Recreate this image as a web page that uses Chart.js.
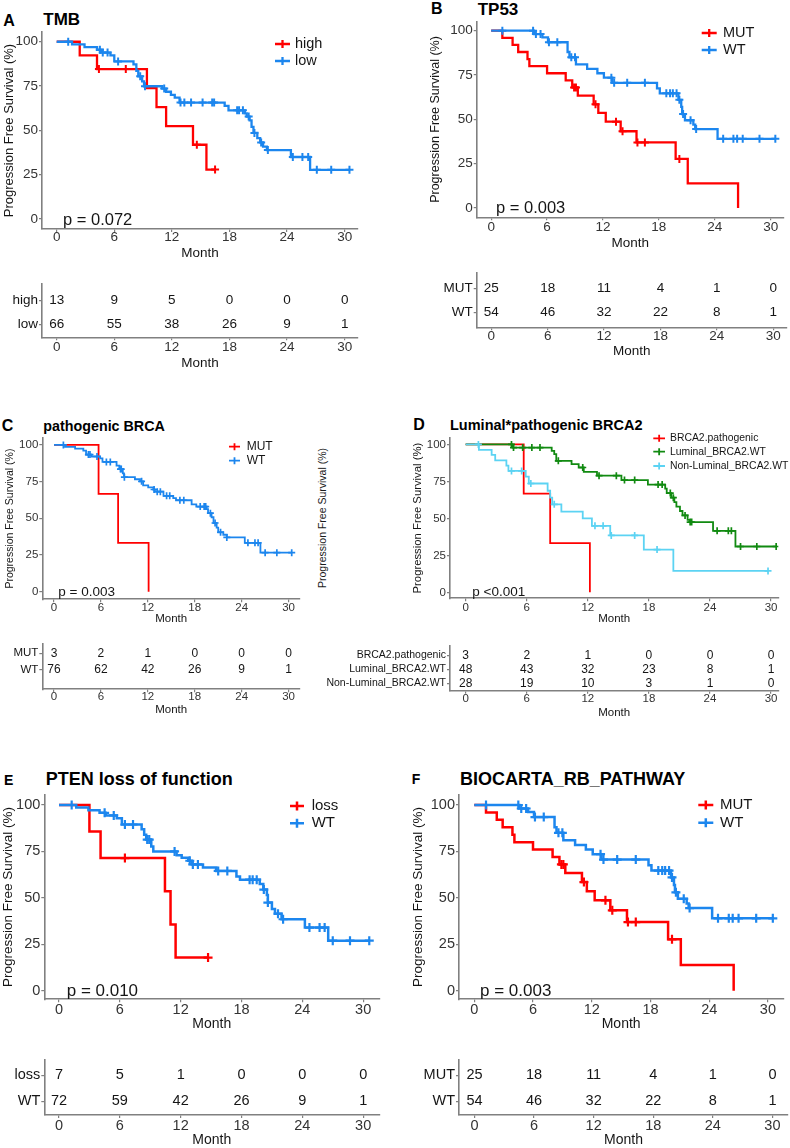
<!DOCTYPE html>
<html>
<head>
<meta charset="utf-8">
<title>Progression free survival</title>
<script src="https://cdn.jsdelivr.net/npm/chart.js@4.4.1/dist/chart.umd.min.js"></script>
<style>
    html, body { margin: 0; padding: 0; background: #fff; }
    body { position: relative; width: 790px; height: 1148px; overflow: hidden; font-family: "Liberation Sans", Arial, sans-serif; }
    canvas { position: absolute; }
    .txt { position: absolute; white-space: nowrap; line-height: 1; color: #000; font-weight: bold; }
    .vtitle { position: absolute; white-space: nowrap; line-height: 1; color: #1a1a1a; transform: translate(-50%, -50%) rotate(-90deg); }
</style>
</head>
<body>
<script>
// ---- shared ticks ----
var monthTicks = [0, 6, 12, 18, 24, 30];
var survTicks = [0, 25, 50, 75, 100];
var riskMonths = [0, 6, 12, 18, 24, 30];

// ---- A: TMB ----
var tmbHighTime = [0, 2.4, 4.2, 9.4, 10.4, 11.4, 14.2, 15.6];
var tmbHighSurv = [100, 92.3, 84.6, 73.8, 63.1, 52.4, 41.9, 27.9];
var tmbHighCens = [4.4, 7.2, 14.6, 16.5];
var tmbLowTime = [0, 1.6, 2.9, 4.2, 4.6, 5.6, 6.0, 8.0, 8.3, 8.5, 8.9, 9.1, 11.0, 11.4, 11.9, 12.3, 12.8, 17.5, 17.9, 19.6, 19.8, 20.1, 20.3, 20.5, 20.9, 21.2, 21.5, 21.9, 24.4, 26.4];
var tmbLowSurv = [100, 98.5, 97.0, 95.5, 93.9, 92.3, 88.9, 87.2, 83.6, 80.5, 77.6, 74.9, 73.6, 71.8, 70.0, 68.5, 65.7, 63.8, 61.3, 59.6, 57.8, 55.7, 52.0, 48.6, 45.6, 43.2, 40.9, 38.9, 35.0, 27.8];
var tmbLowCens = [1.2, 4.5, 4.8, 5.3, 6.4, 8.7, 9.2, 11.2, 12.9, 13.3, 14.0, 15.2, 16.2, 16.4, 18.8, 19.0, 19.4, 20.0, 20.6, 21.3, 22.0, 24.6, 25.6, 26.2, 27.1, 28.6, 30.5];
var tmbRiskHigh = [13, 9, 5, 0, 0, 0];
var tmbRiskLow = [66, 55, 38, 26, 9, 1];

// ---- B: TP53 ----
var tp53MutTime = [0, 1.2, 2.3, 2.9, 3.9, 4.1, 6.0, 8.0, 8.7, 9.3, 11.0, 11.5, 12.3, 13.9, 15.6, 19.8, 21.1, 26.5];
var tp53MutSurv = [100, 96, 92, 88, 84, 80, 76, 72, 68, 63.4, 58.5, 53.6, 48.7, 43.3, 37.0, 27.7, 13.9, 0];
var tp53MutCens = [8.9, 9.1, 11.2, 13.4, 14.1, 15.7, 16.5, 20.2];
var tp53WtTime = [0, 4.6, 5.5, 6.1, 8.2, 8.4, 9.1, 10.3, 11.4, 12.1, 13.0, 17.8, 18.1, 20.1, 20.4, 20.5, 20.8, 21.7, 21.9, 24.3];
var tp53WtSurv = [100, 98.1, 96.2, 93.5, 88.0, 85.0, 81.0, 78.5, 76.0, 73.5, 70.6, 67.5, 64.7, 61.0, 57.0, 53.0, 49.5, 47.0, 44.5, 39.0];
var tp53WtCens = [1.2, 4.5, 4.8, 5.3, 6.2, 7.1, 8.6, 9.0, 12.9, 13.2, 14.6, 16.5, 18.8, 19.2, 19.5, 19.9, 20.2, 20.6, 21.4, 22.0, 24.9, 26.0, 26.4, 27.0, 28.8, 30.5];
var tp53RiskMut = [25, 18, 11, 4, 1, 0];
var tp53RiskWt = [54, 46, 32, 22, 8, 1];

// ---- C: pathogenic BRCA ----
var brcaMutTime = [0, 5.7, 8.2, 12.1];
var brcaMutSurv = [100, 66.7, 33.3, 0];
var brcaMutCens = [];
var brcaWtTime = [0, 1.4, 2.7, 3.75, 4.1, 4.8, 5.9, 6.2, 8.0, 8.35, 8.8, 8.95, 10.35, 11.0, 11.4, 12.05, 12.7, 12.9, 14.0, 15.25, 15.6, 17.6, 18.2, 19.5, 19.7, 20.15, 20.4, 20.8, 21.0, 21.65, 22.1, 24.4, 26.4];
var brcaWtSurv = [100, 98.7, 97.4, 96.1, 93.4, 92.1, 90.8, 88.4, 85.9, 83.5, 80.6, 78.0, 76.6, 75.2, 72.4, 71.0, 69.6, 68.1, 65.3, 63.8, 62.3, 59.5, 58.0, 56.3, 53.5, 50.7, 46.8, 43.7, 40.5, 38.8, 37.0, 33.3, 26.6];
var brcaWtCens = [1.2, 4.4, 4.6, 5.5, 6.7, 7.2, 8.5, 8.6, 9.0, 11.2, 12.8, 13.2, 13.6, 14.4, 14.8, 16.1, 16.6, 18.7, 19.2, 19.4, 20.0, 20.6, 21.3, 22.1, 24.8, 25.7, 26.1, 27.0, 28.5, 30.4];
var brcaRiskMut = [3, 2, 1, 0, 0, 0];
var brcaRiskWt = [76, 62, 42, 26, 9, 1];

// ---- D: Luminal*pathogenic BRCA2 ----
var lumPathTime = [0, 5.7, 8.3, 12.2];
var lumPathSurv = [100, 66.7, 33.3, 0];
var lumPathCens = [];
var lumWtTime = [0, 4.6, 8.45, 8.7, 8.9, 10.4, 11.1, 11.6, 12.9, 15.3, 17.9, 19.6, 19.75, 20.2, 20.5, 20.7, 21.05, 21.3, 21.8, 22.0, 24.3, 26.5];
var lumWtSurv = [100, 97.9, 95.7, 93.4, 88.9, 86.7, 84.4, 81.5, 78.9, 75.9, 72.9, 70.1, 67.1, 64.0, 61.0, 58.0, 55.0, 52.0, 49.0, 47.5, 41.6, 31.0];
var lumWtCens = [4.5, 4.7, 5.6, 6.5, 7.3, 9.1, 11.5, 13.1, 14.8, 15.6, 16.6, 18.9, 19.3, 20.1, 20.4, 21.55, 22.05, 22.2, 24.7, 25.8, 26.1, 27.0, 28.6, 30.5];
var nonLumTime = [0, 1.3, 2.55, 2.9, 4.0, 4.2, 5.9, 6.2, 8.05, 8.3, 8.5, 9.4, 11.5, 12.4, 14.2, 17.5, 20.4];
var nonLumSurv = [100, 96.4, 92.9, 89.3, 85.7, 82.1, 78.2, 73.6, 68.7, 64.1, 59.5, 54.6, 50.0, 45.0, 38.5, 28.9, 14.5];
var nonLumCens = [1.25, 4.5, 5.5, 6.4, 8.7, 12.7, 13.5, 14.3, 16.6, 18.8, 29.7];
var lumRiskPath = [3, 2, 1, 0, 0, 0];
var lumRiskWt = [48, 43, 32, 23, 8, 1];
var nonLumRisk = [28, 19, 10, 3, 1, 0];

// ---- E: PTEN loss of function ----
var ptenLossTime = [0, 3.0, 4.1, 10.45, 11.0, 11.5];
var ptenLossSurv = [100, 85.7, 71.4, 53.6, 35.7, 17.9];
var ptenLossCens = [6.5, 14.7];
var ptenWtTime = [0, 1.7, 2.9, 4.0, 4.6, 5.7, 6.2, 8.15, 8.4, 8.6, 9.1, 9.3, 11.6, 12.1, 12.75, 13.1, 14.2, 15.5, 17.5, 17.85, 19.8, 20.15, 20.5, 20.6, 21.0, 21.3, 21.95, 24.25, 26.55];
var ptenWtSurv = [100, 98.6, 97.2, 95.8, 94.4, 92.9, 89.5, 87.0, 84.0, 81.4, 77.6, 75.0, 73.0, 71.6, 70.0, 68.0, 66.3, 64.5, 61.5, 59.8, 57.5, 54.5, 51.5, 47.5, 44.0, 41.5, 38.5, 34.0, 27.0];
var ptenWtCens = [1.25, 4.5, 5.4, 6.5, 7.3, 8.7, 8.9, 11.4, 12.9, 13.2, 13.7, 15.7, 16.6, 18.8, 19.1, 19.5, 20.2, 20.6, 21.6, 22.1, 24.7, 25.7, 26.2, 27.0, 28.7, 30.6];
var ptenRiskLoss = [7, 5, 1, 0, 0, 0];
var ptenRiskWt = [72, 59, 42, 26, 9, 1];

// ---- F: BIOCARTA_RB_PATHWAY (curves read the same as TP53) ----
var rbMutTime = tp53MutTime, rbMutSurv = tp53MutSurv, rbMutCens = tp53MutCens;
var rbWtTime = tp53WtTime, rbWtSurv = tp53WtSurv, rbWtCens = tp53WtCens;
var rbRiskMut = [25, 18, 11, 4, 1, 0];
var rbRiskWt = [54, 46, 32, 22, 8, 1];

var FONT = '"Liberation Sans", Arial, sans-serif';
var RED = '#FF0000';
var BLUE = '#1C86EE';
var GREEN = '#118A11';
var CYAN = '#5CD3F3';
var AXIS = '#808080';
var TICK = '#333333';
var INK = '#151515';

Chart.defaults.font.family = FONT;
Chart.defaults.animation = false;

function makeCanvas(x, y, w, h) {
    var c = document.createElement('canvas');
    c.width = w;
    c.height = h;
    c.style.left = x + 'px';
    c.style.top = y + 'px';
    c.style.width = w + 'px';
    c.style.height = h + 'px';
    document.body.appendChild(c);
    return c;
}

function addTitle(text, x, cy, fs) {
    var d = document.createElement('div');
    d.className = 'txt';
    d.textContent = text;
    d.style.left = x + 'px';
    d.style.top = (cy - 0.49 * fs) + 'px';
    d.style.fontSize = fs + 'px';
    document.body.appendChild(d);
}

function stepPoints(time, surv, cens) {
    var pts = time.map(function (t, i) { return { x: t, y: surv[i] }; });
    var last = cens.length ? Math.max.apply(null, cens) : 0;
    if (last > time[time.length - 1]) pts.push({ x: last, y: surv[surv.length - 1] });
    return pts;
}

function survAt(time, surv, t) {
    var s = surv[0];
    for (var i = 0; i < time.length; i++) {
        if (time[i] <= t) s = surv[i];
    }
    return s;
}

function frame(p) {
    var h = Math.round(p.bottom - p.y);
    return {
        h: h,
        padL: p.box.l - p.x,
        padT: p.box.t - p.y,
        padR: p.x + p.w - p.box.r,
        padB: p.y + h - p.box.b
    };
}

function xAxis(p, f) {
    return {
        type: 'linear', min: p.xr[0], max: p.xr[1],
        afterBuildTicks: function (s) { s.ticks = monthTicks.map(function (v) { return { value: v }; }); },
        afterFit: function (s) { s.height = f.padB; },
        grid: { drawOnChartArea: false, drawTicks: true, tickLength: 3, color: AXIS, lineWidth: 1.2 },
        border: { display: true, color: AXIS, width: 1.6 },
        ticks: { font: { size: p.tickFs }, color: TICK, padding: p.xPad - 0.6 * (p.tickFs - p.baseFs), maxRotation: 0, autoSkip: false },
        title: { display: true, text: 'Month', font: { size: p.titleFs }, color: INK, padding: 0 }
    };
}

function notesPlugin(p) {
    return {
        id: 'kmNotes',
        afterDraw: function (chart) {
            var ctx = chart.ctx;
            ctx.save();
            ctx.textBaseline = 'middle';
            ctx.textAlign = 'left';
            ctx.fillStyle = INK;
            ctx.font = p.pFs + 'px ' + FONT;
            ctx.fillText(p.pText, p.pX - p.x, p.pY - p.y);
            ctx.font = p.legFs + 'px ' + FONT;
            p.groups.forEach(function (g, i) {
                var y = p.legY[i] - p.y;
                var x1 = p.keyX[0] - p.x, x2 = p.keyX[1] - p.x, xm = (x1 + x2) / 2;
                ctx.strokeStyle = g.color;
                ctx.lineWidth = p.lw;
                ctx.beginPath();
                ctx.moveTo(x1, y);
                ctx.lineTo(x2, y);
                ctx.moveTo(xm, y - p.cr);
                ctx.lineTo(xm, y + p.cr);
                ctx.stroke();
                ctx.fillStyle = INK;
                ctx.fillText(g.label, p.legX - p.x, y);
            });
            ctx.restore();
        }
    };
}

function kmChart(p) {
    var f = frame(p);
    var canvas = makeCanvas(p.x, p.y, p.w, f.h);
    var n = p.groups.length;
    var datasets = [];
    p.groups.forEach(function (g, i) {
        datasets.push({
            type: 'line',
            data: stepPoints(g.time, g.surv, g.cens),
            borderColor: g.color,
            borderWidth: p.lw,
            stepped: true,
            pointRadius: 0,
            fill: false,
            order: 20 + n - i
        });
    });
    p.groups.forEach(function (g, i) {
        datasets.push({
            type: 'scatter',
            data: g.cens.map(function (t) { return { x: t, y: survAt(g.time, g.surv, t) }; }),
            pointStyle: 'cross',
            pointRadius: p.cr,
            borderColor: g.color,
            borderWidth: p.cw,
            order: n - i
        });
    });

    new Chart(canvas, {
        type: 'line',
        data: { datasets: datasets },
        options: {
            responsive: false,
            devicePixelRatio: 1,
            events: [],
            layout: { padding: { left: 0, top: f.padT, right: f.padR, bottom: 0 } },
            plugins: { legend: { display: false }, tooltip: { enabled: false } },
            scales: {
                x: xAxis(p, f),
                y: {
                    type: 'linear', min: p.yr[0], max: p.yr[1],
                    afterBuildTicks: function (s) { s.ticks = survTicks.map(function (v) { return { value: v }; }); },
                    afterFit: function (s) { s.width = f.padL; },
                    grid: { drawOnChartArea: false, drawTicks: true, tickLength: 3, color: AXIS, lineWidth: 1.2 },
                    border: { display: true, color: AXIS, width: 1.6 },
                    ticks: { font: { size: p.tickFs }, color: TICK, padding: 1, autoSkip: false },
                    title: {
                        display: true, text: 'Progression Free Survival (%)',
                        font: { size: p.ytFs }, color: INK,
                        padding: { top: p.ytX - p.x - 0.6 * p.ytFs, bottom: 0 }
                    }
                }
            }
        },
        plugins: [notesPlugin(p)]
    });
}

function numbersPlugin(p) {
    return {
        id: 'riskNumbers',
        afterDatasetsDraw: function (chart) {
            var ctx = chart.ctx;
            ctx.save();
            ctx.font = p.numFs + 'px ' + FONT;
            ctx.fillStyle = INK;
            ctx.textAlign = 'center';
            ctx.textBaseline = 'middle';
            chart.data.datasets.forEach(function (ds, i) {
                chart.getDatasetMeta(i).data.forEach(function (pt, j) {
                    ctx.fillText(String(ds.data[j].n), pt.x, pt.y);
                });
            });
            ctx.restore();
        }
    };
}

function riskTable(p) {
    var f = frame(p);
    var canvas = makeCanvas(p.x, p.y, p.w, f.h);
    var datasets = p.rows.map(function (row, i) {
        return {
            type: 'scatter',
            data: row.map(function (v, j) { return { x: riskMonths[j], y: i + 1, n: v }; }),
            pointRadius: 0
        };
    });
    new Chart(canvas, {
        type: 'scatter',
        data: { datasets: datasets },
        options: {
            responsive: false,
            devicePixelRatio: 1,
            events: [],
            layout: { padding: { left: 0, top: f.padT, right: f.padR, bottom: 0 } },
            plugins: { legend: { display: false }, tooltip: { enabled: false } },
            scales: {
                x: xAxis(p, f),
                y: {
                    type: 'linear', reverse: true, min: p.yr[0], max: p.yr[1],
                    afterBuildTicks: function (s) { s.ticks = p.labels.map(function (l, i) { return { value: i + 1 }; }); },
                    afterFit: function (s) { s.width = f.padL; },
                    grid: { drawOnChartArea: false, drawTicks: true, tickLength: 3, color: AXIS, lineWidth: 1.2 },
                    border: { display: true, color: AXIS, width: 1.6 },
                    ticks: {
                        font: { size: p.labFs }, color: INK, padding: 1, autoSkip: false,
                        callback: function (v) { return p.labels[v - 1]; }
                    }
                }
            }
        },
        plugins: [numbersPlugin(p)]
    });
}

// ---- panel titles ----
addTitle('A', 3.3, 20.8, 16);
addTitle('TMB', 43.3, 19.5, 17);
addTitle('B', 431, 9, 16);
addTitle('TP53', 477.7, 9, 17);
addTitle('C', 1.7, 425.8, 16);
addTitle('pathogenic BRCA', 43.3, 425.8, 14.3);
addTitle('D', 413.3, 424.7, 16);
addTitle('Luminal*pathogenic BRCA2', 450, 424.7, 14.5);
addTitle('E', 4, 780, 14);
addTitle('PTEN loss of function', 45.7, 778.8, 18);
addTitle('F', 411.7, 779, 14);
addTitle('BIOCARTA_RB_PATHWAY', 460, 779, 18);

var stray = document.createElement('div');
stray.className = 'vtitle';
stray.textContent = 'Progression Free Survival (%)';
stray.style.left = '321.7px';
stray.style.top = '518px';
stray.style.fontSize = '10.5px';
document.body.appendChild(stray);

// ---- A ----
kmChart({
    x: 0, y: 0, w: 395, bottom: 260.5,
    box: { l: 42, r: 358, t: 32, b: 229 },
    xr: [-1.53, 31.39], yr: [-5.6, 105.5],
    baseFs: 12.5, tickFs: 13.5, titleFs: 13.5, ytFs: 13, ytX: 9.5, xPad: -1.75,
    lw: 2.3, cr: 4, cw: 2,
    legFs: 14.5, keyX: [275, 290], legX: 295, legY: [44, 61],
    pText: 'p = 0.072', pFs: 16.5, pX: 63, pY: 220,
    groups: [
        { label: 'high', color: RED, time: tmbHighTime, surv: tmbHighSurv, cens: tmbHighCens },
        { label: 'low', color: BLUE, time: tmbLowTime, surv: tmbLowSurv, cens: tmbLowCens }
    ]
});
riskTable({
    x: 0, y: 275, w: 395, bottom: 370.8,
    box: { l: 42, r: 358, t: 282.7, b: 337.3 },
    xr: [-1.53, 31.39], yr: [0.328, 2.538],
    baseFs: 12.5, tickFs: 13.5, titleFs: 13.5, xPad: -0.5, labFs: 13.5, numFs: 13.5,
    labels: ['high', 'low'], rows: [tmbRiskHigh, tmbRiskLow]
});

// ---- B ----
kmChart({
    x: 395, y: 0, w: 395, bottom: 250.5,
    box: { l: 476.7, r: 786.7, t: 21.7, b: 217.3 },
    xr: [-1.553, 31.43], yr: [-5.25, 105.08],
    baseFs: 12.5, tickFs: 13.5, titleFs: 13.5, ytFs: 12.5, ytX: 436, xPad: -0.1,
    lw: 2.3, cr: 4, cw: 2,
    legFs: 14.5, keyX: [701.7, 716.7], legX: 723, legY: [33, 50],
    pText: 'p = 0.003', pFs: 16.5, pX: 496, pY: 208,
    groups: [
        { label: 'MUT', color: RED, time: tp53MutTime, surv: tp53MutSurv, cens: tp53MutCens },
        { label: 'WT', color: BLUE, time: tp53WtTime, surv: tp53WtSurv, cens: tp53WtCens }
    ]
});
riskTable({
    x: 395, y: 262, w: 395, bottom: 358.8,
    box: { l: 476.7, r: 786.7, t: 272.3, b: 327.3 },
    xr: [-1.553, 31.43], yr: [0.344, 2.598],
    baseFs: 12.5, tickFs: 13.5, titleFs: 13.5, xPad: -1.1, labFs: 13.5, numFs: 13.5,
    labels: ['MUT', 'WT'], rows: [tp53RiskMut, tp53RiskWt]
});

// ---- C ----
kmChart({
    x: 0, y: 430, w: 312, bottom: 626.2,
    box: { l: 42.3, r: 300, t: 437.3, b: 599.3 },
    xr: [-1.496, 31.46], yr: [-5.16, 104.75],
    baseFs: 11, tickFs: 11.5, titleFs: 11.5, ytFs: 10.5, ytX: 10, xPad: -0.6,
    lw: 1.8, cr: 3.5, cw: 1.7,
    legFs: 12, keyX: [229, 240], legX: 246.7, legY: [446.7, 460.7],
    pText: 'p = 0.003', pFs: 13.5, pX: 58.3, pY: 592.3,
    groups: [
        { label: 'MUT', color: RED, time: brcaMutTime, surv: brcaMutSurv, cens: brcaMutCens },
        { label: 'WT', color: BLUE, time: brcaWtTime, surv: brcaWtSurv, cens: brcaWtCens }
    ]
});
riskTable({
    x: 0, y: 636, w: 312, bottom: 716.9,
    box: { l: 42.3, r: 300, t: 642.7, b: 689.3 },
    xr: [-1.496, 31.46], yr: [0.435, 3.18],
    baseFs: 11, tickFs: 11.5, titleFs: 11.5, xPad: -1.6, labFs: 11.5, numFs: 12,
    labels: ['MUT', 'WT'], rows: [brcaRiskMut, brcaRiskWt]
});

// ---- D ----
kmChart({
    x: 400, y: 430, w: 390, bottom: 626.2,
    box: { l: 450, r: 778.3, t: 436.7, b: 598.3 },
    xr: [-1.54, 30.71], yr: [-4.03, 104.43],
    baseFs: 11, tickFs: 11.5, titleFs: 11.5, ytFs: 11.3, ytX: 417.5, xPad: -0.4,
    lw: 1.8, cr: 3.5, cw: 1.7,
    legFs: 10.4, keyX: [653.3, 665], legX: 670, legY: [438.3, 451.7, 466],
    pText: 'p <0.001', pFs: 13.5, pX: 472.3, pY: 592.3,
    groups: [
        { label: 'BRCA2.pathogenic', color: RED, time: lumPathTime, surv: lumPathSurv, cens: lumPathCens },
        { label: 'Luminal_BRCA2.WT', color: GREEN, time: lumWtTime, surv: lumWtSurv, cens: lumWtCens },
        { label: 'Non-Luminal_BRCA2.WT', color: CYAN, time: nonLumTime, surv: nonLumSurv, cens: nonLumCens }
    ]
});
riskTable({
    x: 318, y: 638, w: 472, bottom: 719.6,
    box: { l: 450, r: 778.3, t: 645, b: 690.7 },
    xr: [-1.54, 30.71], yr: [0.293, 3.52],
    baseFs: 11, tickFs: 11.5, titleFs: 11.5, xPad: -1.0, labFs: 10.5, numFs: 12,
    labels: ['BRCA2.pathogenic', 'Luminal_BRCA2.WT', 'Non-Luminal_BRCA2.WT'],
    rows: [lumRiskPath, lumRiskWt, nonLumRisk]
});

// ---- E ----
kmChart({
    x: 0, y: 785, w: 395, bottom: 1033.4,
    box: { l: 44.3, r: 379.3, t: 792.3, b: 999.3 },
    xr: [-1.45, 31.59], yr: [-4.57, 105.53],
    baseFs: 13.5, tickFs: 14.5, titleFs: 14, ytFs: 13.5, ytX: 8.5, xPad: -0.4,
    lw: 2.5, cr: 4.5, cw: 2.2,
    legFs: 15, keyX: [290, 304], legX: 311.7, legY: [806, 823.3],
    pText: 'p = 0.010', pFs: 17, pX: 66.7, pY: 991,
    groups: [
        { label: 'loss', color: RED, time: ptenLossTime, surv: ptenLossSurv, cens: ptenLossCens },
        { label: 'WT', color: BLUE, time: ptenWtTime, surv: ptenWtSurv, cens: ptenWtCens }
    ]
});
riskTable({
    x: 0, y: 1050, w: 395, bottom: 1149.4,
    box: { l: 44.3, r: 379.3, t: 1058.3, b: 1115 },
    xr: [-1.45, 31.59], yr: [0.40, 2.52],
    baseFs: 13.5, tickFs: 14.5, titleFs: 14, xPad: -0.4, labFs: 14.5, numFs: 14.5,
    labels: ['loss', 'WT'], rows: [ptenRiskLoss, ptenRiskWt]
});

// ---- F ----
kmChart({
    x: 395, y: 785, w: 395, bottom: 1033.4,
    box: { l: 459, r: 788, t: 792.3, b: 999.3 },
    xr: [-1.56, 31.57], yr: [-4.57, 105.53],
    baseFs: 13.5, tickFs: 14.5, titleFs: 14, ytFs: 13.5, ytX: 418, xPad: -0.4,
    lw: 2.5, cr: 4.5, cw: 2.2,
    legFs: 15, keyX: [698.3, 713.3], legX: 720, legY: [805, 822.7],
    pText: 'p = 0.003', pFs: 17, pX: 480, pY: 991,
    groups: [
        { label: 'MUT', color: RED, time: rbMutTime, surv: rbMutSurv, cens: rbMutCens },
        { label: 'WT', color: BLUE, time: rbWtTime, surv: rbWtSurv, cens: rbWtCens }
    ]
});
riskTable({
    x: 395, y: 1050, w: 395, bottom: 1149.4,
    box: { l: 459, r: 788, t: 1058, b: 1115 },
    xr: [-1.56, 31.57], yr: [0.40, 2.53],
    baseFs: 13.5, tickFs: 14.5, titleFs: 14, xPad: -0.4, labFs: 14.5, numFs: 14.5,
    labels: ['MUT', 'WT'], rows: [rbRiskMut, rbRiskWt]
});
</script>
</body>
</html>
